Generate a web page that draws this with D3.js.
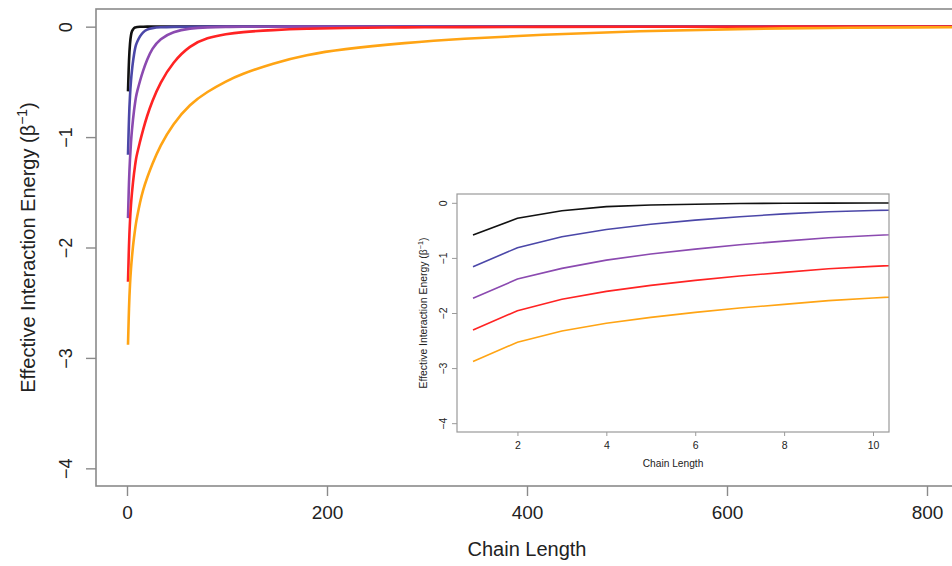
<!DOCTYPE html>
<html>
<head>
<meta charset="utf-8">
<script src="https://cdn.jsdelivr.net/npm/d3@7"></script>
<style>
  html, body { margin: 0; padding: 0; background: #ffffff; }
  svg { display: block; }
  text { font-family: "Liberation Sans", Arial, Helvetica, sans-serif; fill: #222; }
</style>
</head>
<body>
<svg id="chart" width="952" height="566"></svg>
<script>
// ---- data ----
const chainLength = [1,2,3,4,5,6,7,8,9,10,13,16,20,25,33,46,63,80,100,113,146,180,213,280,333,413,513,613,700,800,850];
const energyBlack  = [-0.586,-0.28,-0.145,-0.07,-0.04,-0.025,-0.012,-0.008,-0.005,-0.004,-0.001,0,0,0,0,0,0,0,0,0,0,0,0,0,0,0,0,0,0,0,0];
const energyBlue   = [-1.16,-0.815,-0.616,-0.483,-0.39,-0.314,-0.254,-0.20,-0.163,-0.139,-0.085,-0.05,-0.025,-0.012,-0.005,-0.001,0,0,0,0,0,0,0,0,0,0,0,0,0,0,0];
const energyPurple = [-1.734,-1.384,-1.19,-1.04,-0.93,-0.84,-0.76,-0.695,-0.634,-0.592,-0.49,-0.40,-0.30,-0.20,-0.11,-0.045,-0.014,-0.005,-0.002,-0.001,0,0,0,0,0,0,0,0,0,0,0];
const energyRed    = [-2.31,-1.958,-1.752,-1.607,-1.498,-1.408,-1.329,-1.263,-1.196,-1.154,-1.04,-0.935,-0.81,-0.68,-0.51,-0.32,-0.17,-0.10,-0.065,-0.05,-0.03,-0.018,-0.012,-0.006,-0.004,-0.002,-0.001,0,0,0,0];
const energyOrange = [-2.88,-2.53,-2.326,-2.187,-2.08,-1.988,-1.91,-1.843,-1.776,-1.728,-1.59,-1.48,-1.37,-1.25,-1.08,-0.88,-0.70,-0.59,-0.49,-0.435,-0.33,-0.255,-0.205,-0.145,-0.11,-0.072,-0.04,-0.02,-0.011,-0.006,-0.004];

const seriesNames  = ["black","blue","purple","red","orange"];
const seriesColors = ["#111111","#4b47a8","#8b4ab0","#ff2323","#ffa414"];
const seriesValues = [energyBlack, energyBlue, energyPurple, energyRed, energyOrange];

const mainXTicks = [0,200,400,600,800];
const yTicks = [0,-1,-2,-3,-4];
const insetXTicks = [2,4,6,8,10];
const insetMaxLength = 13;

const xTitle = "Chain Length";
const yTitleMain = "Effective Interaction Energy (β";
const yTitleSup = "−1";

// ---- drawing ----
const svg = d3.select("#chart");
const defs = svg.append("defs");
const fmt = v => (v < 0 ? "−" + Math.abs(v) : String(v));
const series = seriesNames.map((name, i) => ({
  name, color: seriesColors[i],
  points: chainLength.map((n, j) => ({ n, e: seriesValues[i][j] }))
}));

function yTitle(g, x, y, size) {
  const t = g.append("text")
    .attr("transform", `translate(${x},${y}) rotate(-90)`)
    .attr("text-anchor", "middle")
    .style("font-size", size + "px");
  t.append("tspan").text(yTitleMain);
  t.append("tspan").attr("dy", -size * 0.38).style("font-size", (size * 0.7) + "px").text(yTitleSup);
  t.append("tspan").attr("dy", size * 0.38).text(")");
}

// main plot
const L = 96, R = 959, T = 9, B = 486;
const x = d3.scaleLinear().domain([-31, 832]).range([L, R]);
const y = d3.scaleLinear().domain([-4.16, 0.16]).range([B, T]);

defs.append("clipPath").attr("id", "mainClip")
  .append("rect").attr("x", L).attr("y", T).attr("width", R - L).attr("height", B - T);

const line = d3.line().x(d => x(d.n)).y(d => y(d.e)).curve(d3.curveBasis);
const curves = svg.append("g").attr("clip-path", "url(#mainClip)");
series.forEach(s => {
  curves.append("path").datum(s.points)
    .attr("d", line).attr("fill", "none")
    .attr("stroke", s.color).attr("stroke-width", 2.6)
    .attr("stroke-linejoin", "round");
});

// frame
svg.append("rect").attr("x", L).attr("y", T).attr("width", R - L).attr("height", B - T)
  .attr("fill", "none").attr("stroke", "#8a8a8a").attr("stroke-width", 1.6);

// x axis
const xAxis = svg.append("g").attr("transform", `translate(0,${B})`)
  .call(d3.axisBottom(x).tickValues(mainXTicks).tickSize(10).tickPadding(10).tickFormat(d => d));
xAxis.select(".domain").remove();
xAxis.selectAll("line").attr("stroke", "#8a8a8a").attr("stroke-width", 1.4);
xAxis.selectAll("text").style("font-size", "19px").attr("fill", "#222").attr("dy", "0.71em");

// y axis
const yAxis = svg.append("g").attr("transform", `translate(${L},0)`)
  .call(d3.axisLeft(y).tickValues(yTicks).tickSize(10).tickFormat(fmt));
yAxis.select(".domain").remove();
yAxis.selectAll("line").attr("stroke", "#8a8a8a").attr("stroke-width", 1.4);
yAxis.selectAll("text")
  .style("font-size", "18px").attr("fill", "#222")
  .attr("x", null).attr("dy", null)
  .attr("text-anchor", "middle")
  .attr("transform", "translate(-24,0) rotate(-90)");

svg.append("text").attr("x", (x(0) + x(800)) / 2).attr("y", 556)
  .attr("text-anchor", "middle").style("font-size", "20px").text(xTitle);
yTitle(svg, 35, (T + B) / 2, 20);

// inset
const iL = 457, iR = 889, iT = 194, iB = 432;
const ix = d3.scaleLinear().domain([0.64, 10.36]).range([iL, iR]);
const iy = d3.scaleLinear().domain([-4.16, 0.16]).range([iB, iT]);
defs.append("clipPath").attr("id", "insetClip")
  .append("rect").attr("x", iL).attr("y", iT).attr("width", iR - iL).attr("height", iB - iT);
const inset = svg.append("g");
inset.append("rect").attr("x", iL).attr("y", iT).attr("width", iR - iL).attr("height", iB - iT)
  .attr("fill", "#ffffff");
const iline = d3.line().x(d => ix(d.n)).y(d => iy(d.e));
const icurves = inset.append("g").attr("clip-path", "url(#insetClip)");
series.forEach(s => {
  icurves.append("path").datum(s.points.filter(p => p.n <= insetMaxLength))
    .attr("d", iline).attr("fill", "none")
    .attr("stroke", s.color).attr("stroke-width", 1.6);
});
inset.append("rect").attr("x", iL).attr("y", iT).attr("width", iR - iL).attr("height", iB - iT)
  .attr("fill", "none").attr("stroke", "#9a9a9a").attr("stroke-width", 1.2);

const ixAxis = inset.append("g").attr("transform", `translate(0,${iB})`)
  .call(d3.axisBottom(ix).tickValues(insetXTicks).tickSize(4).tickPadding(6));
ixAxis.select(".domain").remove();
ixAxis.selectAll("line").attr("stroke", "#9a9a9a");
ixAxis.selectAll("text").style("font-size", "10.5px").attr("fill", "#333");

const iyAxis = inset.append("g").attr("transform", `translate(${iL},0)`)
  .call(d3.axisLeft(iy).tickValues(yTicks).tickSize(5).tickFormat(fmt));
iyAxis.select(".domain").remove();
iyAxis.selectAll("line").attr("stroke", "#9a9a9a");
iyAxis.selectAll("text")
  .style("font-size", "10.5px").attr("fill", "#333")
  .attr("x", null).attr("dy", null)
  .attr("text-anchor", "middle")
  .attr("transform", "translate(-10,0) rotate(-90)");

inset.append("text").attr("x", (iL + iR) / 2).attr("y", 467)
  .attr("text-anchor", "middle").style("font-size", "10.2px").attr("fill", "#333").text(xTitle);
yTitle(inset, 427, (iT + iB) / 2, 10.4);
</script>
</body>
</html>
